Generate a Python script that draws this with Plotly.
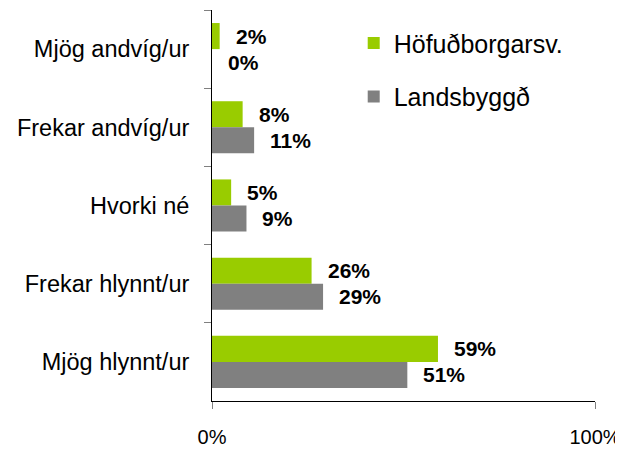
import plotly.graph_objects as go

categories = ["Mjög andvíg/ur", "Frekar andvíg/ur", "Hvorki né", "Frekar hlynnt/ur", "Mjög hlynnt/ur"]
series_names = ["Höfuðborgarsv.", "Landsbyggð"]
hofudborg = [2, 8, 5, 26, 59]
landsbyggd = [0, 11, 9, 29, 51]
x_tick_vals = [0, 100]
x_tick_text = ["0%", "100%"]

colors = ["#99CC00", "#808080"]
FONT = "Arial, 'Liberation Sans', sans-serif"

fig = go.Figure()
for i, (name, vals) in enumerate(zip(series_names, [hofudborg, landsbyggd])):
    fig.add_trace(go.Bar(
        y=categories, x=vals, orientation="h", name=name,
        marker=dict(color=colors[i], line=dict(width=0)),
        legendgroup=name,
    ))

# data labels
annotations = []
for i, vals in enumerate([hofudborg, landsbyggd]):
    shift = 13 if i == 0 else -13
    for c, v in zip(categories, vals):
        annotations.append(dict(
            x=v, y=c, xref="x", yref="y", text=f"<b>{v}%</b>",
            showarrow=False, xanchor="left", xshift=14, yshift=shift,
            font=dict(family=FONT, size=21, color="black"),
        ))

# page body adds an 8px offset, so the figure is 8px smaller than the window
fig.update_layout(
    width=615, height=441,
    margin=dict(l=204, r=28, t=2, b=48, autoexpand=False),
    paper_bgcolor="white", plot_bgcolor="white",
    barmode="group", bargap=1/3, bargroupgap=0,
    font=dict(family=FONT, color="black"),
    annotations=annotations,
    legend=dict(
        x=0.37, y=0.974, xanchor="left", yanchor="top",
        font=dict(family=FONT, size=25, color="black"),
        traceorder="grouped", tracegroupgap=18,
        bgcolor="rgba(0,0,0,0)",
    ),
    xaxis=dict(
        range=[0, 100], tickvals=x_tick_vals, ticktext=x_tick_text,
        showline=True, linecolor="black", linewidth=1,
        ticks="outside", ticklen=7, tickcolor="#808080",
        showgrid=False, zeroline=False, ticklabelstandoff=11,
        automargin=False,
        tickfont=dict(family=FONT, size=20, color="black"),
    ),
    yaxis=dict(
        categoryorder="array", categoryarray=categories, autorange="reversed",
        showline=True, linecolor="black", linewidth=1,
        ticks="outside", ticklen=7, tickcolor="#808080", tickson="boundaries",
        showgrid=False, zeroline=False, ticklabelstandoff=17,
        automargin=False,
        tickfont=dict(family=FONT, size=23.5, color="black"),
    ),
)

fig.write_html("out.html")
